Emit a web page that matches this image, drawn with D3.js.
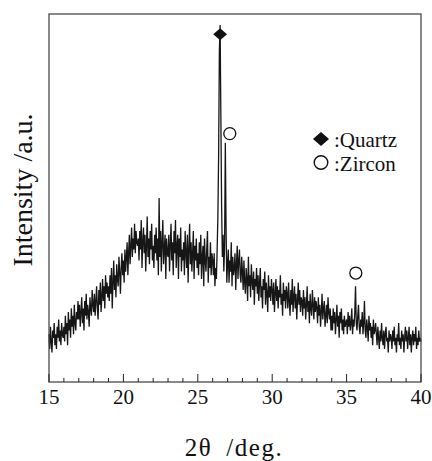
<html>
<head>
<script src="https://cdnjs.cloudflare.com/ajax/libs/d3/7.8.5/d3.min.js"></script>
<style>
  body { margin: 0; background: #fff; }
  text { font-family: "Liberation Serif", "Times New Roman", serif; fill: #111; }
</style>
</head>
<body>
<svg id="chart" width="432" height="461"></svg>
<script>
// 2theta sampling grid (deg)
var startAngle = 15, stepAngle = 0.05;
// intensity (a.u.), one value every 0.05 deg from 15 to 40
var intensity = [
  13,9,15,11,8,14,12,16,10,13,9,15,12,17,11,14,10,16,13,12,
  15,11,18,13,16,10,19,14,17,12,20,15,18,13,21,16,14,19,17,22,
  17,21,15,19,23,16,20,14,22,18,24,17,21,19,15,23,20,18,25,21,
  19,24,18,22,26,20,17,25,21,27,19,23,28,22,26,20,29,24,27,23,
  26,22,29,24,31,20,27,33,25,29,23,32,28,26,34,30,24,31,35,29,
  33,27,36,30,34,38,29,35,40,32,37,42,34,39,36,43,35,41,38,37,
  39,33,41,36,44,31,38,42,35,40,30,37,45,34,39,32,41,36,43,33,
  37,31,40,35,42,33,39,29,50,34,41,30,38,44,32,36,40,28,39,35,
  34,40,30,37,43,33,38,29,41,35,44,31,37,40,28,39,34,42,30,36,
  33,38,29,41,35,31,40,27,36,43,32,38,30,35,41,28,37,33,39,31,
  35,29,38,32,40,28,34,37,26,39,33,30,36,41,27,34,31,38,29,35,
  33,29,35,26,31,28,36,45,62,90,97,72,48,34,40,30,37,65,42,27,
  32,36,27,33,30,38,26,34,29,31,35,25,32,37,28,33,36,29,27,34,
  30,25,33,27,24,31,28,22,34,26,29,23,32,27,25,30,21,28,26,31,
  24,29,22,27,31,23,26,20,28,25,30,21,27,24,19,29,23,26,22,28,
  25,21,27,19,24,28,22,26,20,25,23,29,21,24,18,27,22,25,20,26,
  24,20,27,22,18,25,21,28,19,23,26,20,24,17,22,27,21,25,19,23,
  22,18,25,20,23,17,21,26,19,22,16,24,20,18,25,21,17,23,19,22,
  20,16,23,18,21,15,19,24,17,20,22,15,18,21,16,23,19,17,20,14,
  18,14,20,16,19,13,17,21,15,18,12,19,16,20,14,17,13,18,15,16,
  17,13,19,15,18,14,16,20,13,17,15,19,26,16,14,18,21,15,13,17,
  15,19,13,16,22,14,12,17,15,11,18,14,16,12,15,10,17,13,14,16,
  13,10,15,12,9,14,11,16,12,10,14,9,13,15,11,12,8,14,11,13,
  12,9,14,11,15,10,12,8,13,11,16,10,12,9,14,11,13,8,12,15,
  11,14,9,12,15,10,13,8,12,14,10,13,11,15,9,12,10,14,11,12,
  11
];
var majorTicks = [15, 20, 25, 30, 35, 40];
var minorTicks = d3.range(15, 41, 1);
// phase markers: [2theta, intensity]
var quartzMarks = [[26.5, 94.5]];
var zirconMarks = [[27.15, 67.5], [35.62, 29.6]];
var legendItems = [{shape: "diamond", label: ":Quartz"}, {shape: "circle", label: ":Zircon"}];

var svg = d3.select("#chart");
var plotL = 49, plotR = 421, plotT = 14, plotB = 382;

var x = d3.scaleLinear().domain([15, 40]).range([plotL, plotR]);
var y = d3.scaleLinear().domain([0, 100]).range([plotB, plotT]);

var pts = intensity.map(function (v, i) { return [startAngle + i * stepAngle, v]; });

// trace
svg.append("path")
  .datum(pts)
  .attr("fill", "none")
  .attr("stroke", "#161616")
  .attr("stroke-width", 1.3)
  .attr("d", d3.line().x(d => x(d[0])).y(d => y(d[1])));

// frame
svg.append("rect")
  .attr("x", plotL).attr("y", plotT)
  .attr("width", plotR - plotL).attr("height", plotB - plotT)
  .attr("fill", "none").attr("stroke", "#4a4a4a").attr("stroke-width", 1.3);

// inward ticks
var xAxis = svg.append("g").attr("transform", "translate(0," + plotB + ")");
xAxis.selectAll("line").data(minorTicks).enter().append("line")
  .attr("x1", d => x(d)).attr("x2", d => x(d))
  .attr("y1", 0).attr("y2", d => d % 5 === 0 ? -8 : -4)
  .attr("stroke", "#222").attr("stroke-width", 1);
xAxis.selectAll("text").data(majorTicks).enter().append("text")
  .attr("x", d => x(d)).attr("y", 22)
  .attr("text-anchor", "middle")
  .style("font-size", "21px")
  .text(d => d);

// axis titles
svg.append("text")
  .attr("x", 234).attr("y", 456)
  .attr("text-anchor", "middle")
  .style("font-size", "25px")
  .style("letter-spacing", "1.5px")
  .text("2\u03b8\u2002/deg.");
svg.append("text")
  .attr("transform", "translate(32,190) rotate(-90)")
  .attr("text-anchor", "middle")
  .style("font-size", "28px")
  .text("Intensity /a.u.");

// phase markers
var diamond = d3.symbol().type(d3.symbolSquare).size(72);
var bigDiamond = d3.symbol().type(d3.symbolSquare).size(98);
svg.selectAll("path.qz").data(quartzMarks).enter().append("path")
  .attr("class", "qz")
  .attr("d", diamond)
  .attr("transform", d => "translate(" + x(d[0]) + "," + y(d[1]) + ") scale(1.15,1) rotate(45)")
  .attr("fill", "#111");
svg.selectAll("circle.zr").data(zirconMarks).enter().append("circle")
  .attr("class", "zr")
  .attr("cx", d => x(d[0])).attr("cy", d => y(d[1]))
  .attr("r", 6)
  .attr("fill", "#fff").attr("stroke", "#111").attr("stroke-width", 1.3);

// legend
var legend = svg.append("g").attr("transform", "translate(321,139)");
legendItems.forEach(function (item, i) {
  var g = legend.append("g").attr("transform", "translate(0," + (i * 23.5) + ")");
  if (item.shape === "diamond") {
    g.append("path").attr("d", bigDiamond).attr("transform", "scale(1.15,1) rotate(45)").attr("fill", "#111");
  } else {
    g.append("circle").attr("r", 6.8).attr("fill", "#fff").attr("stroke", "#111").attr("stroke-width", 1.4);
  }
  g.append("text").attr("x", 13).attr("y", 8)
    .style("font-size", "21px")
    .text(item.label);
});
</script>
</body>
</html>
